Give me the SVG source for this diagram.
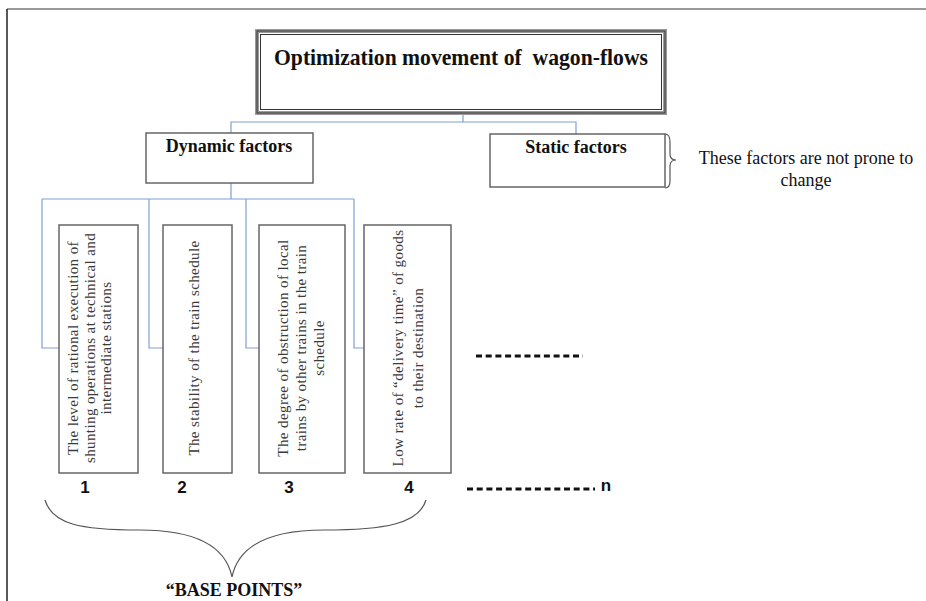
<svg xmlns="http://www.w3.org/2000/svg" width="926" height="601" viewBox="0 0 926 601">
<style>
.serif{font-family:"Liberation Serif","Times New Roman",serif;fill:#111}
.b{font-weight:bold}
.box{fill:#fff;stroke:#666;stroke-width:1.5}
.conn{fill:none;stroke:#7d9fd6;stroke-width:1.2}
.rot{font-family:"Liberation Serif","Times New Roman",serif;font-size:15px;fill:#3a3a3a;letter-spacing:0.4px}
.num{font-family:"Liberation Sans",Arial,sans-serif;font-weight:bold;font-size:17px;fill:#111}
.dash{stroke:#111;stroke-width:3;stroke-dasharray:6 3.7}
.brace{fill:none;stroke:#555;stroke-width:1.2}
</style>
<rect width="926" height="601" fill="#fff"/>
<g id="frame">
<line x1="7" y1="9" x2="926" y2="9" stroke="#777" stroke-width="1.5"/>
<line x1="7" y1="9" x2="7" y2="601" stroke="#222" stroke-width="1.5"/>
</g>
<g id="connectors">
<path class="conn" d="M463,113 V122 M231,133 V122 H576 V134"/>
<path class="conn" d="M231,183 V199 M42,199 H354"/>
<path class="conn" d="M42,199 V348 H59 M149,199 V348 H163 M246,199 V348 H259 M354,199 V348 H364"/>
</g>
<g id="title">
<rect x="257" y="31" width="408" height="82" fill="#fff" stroke="#999" stroke-width="4"/>
<rect x="257" y="31" width="408" height="82" fill="none" stroke="#333" stroke-width="1"/>
<rect x="260.5" y="34.5" width="401" height="75" fill="none" stroke="#333" stroke-width="1"/>
<text class="serif b" x="461" y="65" font-size="22.5" text-anchor="middle" textLength="374" lengthAdjust="spacingAndGlyphs" xml:space="preserve">Optimization movement of  wagon-flows</text>
</g>
<g id="dynamic">
<rect class="box" x="146" y="133" width="167" height="50"/>
<text class="serif b" x="229" y="152" font-size="18" text-anchor="middle">Dynamic factors</text>
</g>
<g id="static">
<rect class="box" x="490" y="134" width="175" height="53"/>
<text class="serif b" x="576" y="153" font-size="18" text-anchor="middle">Static factors</text>
<path class="brace" d="M665,134 C669,134 670,137 670,142 L670,154 C670,158 672,160 676,160 C672,160 670,162 670,166 L670,181 C670,185 669,188 665,188"/>
</g>
<g id="note">
<text class="serif" x="806" y="164" font-size="18" text-anchor="middle">These factors are not prone to</text>
<text class="serif" x="806" y="186" font-size="18" text-anchor="middle">change</text>
</g>
<g id="factor1">
<rect class="box" x="59" y="225" width="79" height="248"/>
<text class="rot" transform="translate(78,348) rotate(-90)" text-anchor="middle">The level of rational execution of</text>
<text class="rot" transform="translate(94.5,348) rotate(-90)" text-anchor="middle">shunting operations at technical and</text>
<text class="rot" transform="translate(111,348) rotate(-90)" text-anchor="middle">intermediate stations</text>
<text class="num" x="85" y="493" text-anchor="middle">1</text>
</g>
<g id="factor2">
<rect class="box" x="163" y="225" width="69" height="248"/>
<text class="rot" transform="translate(199,348) rotate(-90)" text-anchor="middle">The stability of the train schedule</text>
<text class="num" x="182" y="493" text-anchor="middle">2</text>
</g>
<g id="factor3">
<rect class="box" x="259" y="225" width="86" height="248"/>
<text class="rot" transform="translate(288,348) rotate(-90)" text-anchor="middle">The degree of obstruction of local</text>
<text class="rot" transform="translate(306,348) rotate(-90)" text-anchor="middle">trains by other trains in the train</text>
<text class="rot" transform="translate(324,348) rotate(-90)" text-anchor="middle">schedule</text>
<text class="num" x="289" y="493" text-anchor="middle">3</text>
</g>
<g id="factor4">
<rect class="box" x="364" y="225" width="87" height="248"/>
<text class="rot" transform="translate(403,348) rotate(-90)" text-anchor="middle">Low rate of “delivery time” of goods</text>
<text class="rot" transform="translate(423,348) rotate(-90)" text-anchor="middle">to their destination</text>
<text class="num" x="409" y="493" text-anchor="middle">4</text>
</g>
<g id="more">
<line class="dash" x1="476" y1="356" x2="583" y2="356"/>
<line class="dash" x1="467" y1="489" x2="595" y2="489"/>
<text class="num" x="606" y="491" text-anchor="middle">n</text>
</g>
<g id="basepoints">
<path class="brace" d="M45,500 C52,524 80,530 140,530 C200,530 226,548 232,577 C238,548 264,530 324,530 C384,530 419,524 426,500"/>
<text class="serif b" x="234" y="596" font-size="18" text-anchor="middle">“BASE POINTS”</text>
</g>
</svg>
